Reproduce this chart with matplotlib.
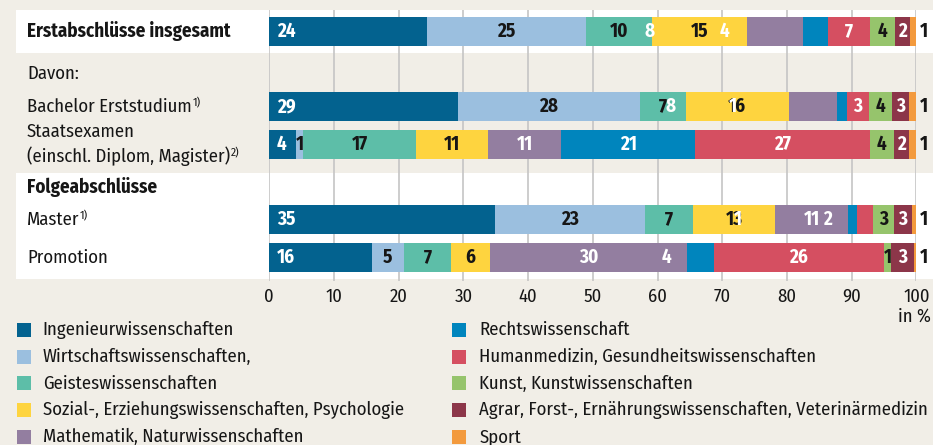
import matplotlib
matplotlib.use("Agg")
import matplotlib.pyplot as plt
from matplotlib import font_manager as fm
from matplotlib.patches import Rectangle
from matplotlib.transforms import blended_transform_factory, IdentityTransform

# ---------------- data ----------------
fields = [
    "Ingenieurwissenschaften",
    "Wirtschaftswissenschaften,",
    "Geisteswissenschaften",
    "Sozial-, Erziehungswissenschaften, Psychologie",
    "Mathematik, Naturwissenschaften",
    "Rechtswissenschaft",
    "Humanmedizin, Gesundheitswissenschaften",
    "Kunst, Kunstwissenschaften",
    "Agrar, Forst-, Ernährungswissenschaften, Veterinärmedizin",
    "Sport",
]
colors = ["#03628f", "#9bbfdf", "#5dbea8", "#fed43f", "#937ea0",
          "#0085bd", "#d54f61", "#96c46c", "#8c3649", "#f39a3d"]
label_dark = [False, True, True, True, False, False, False, True, False, True]

categories = [
    "Erstabschlüsse insgesamt",
    "Bachelor Erststudium",
    "Staatsexamen\n(einschl. Diplom, Magister)",
    "Master",
    "Promotion",
]
footnotes = ["", "1)", "2)", "1)", ""]
bold_category = [True, False, False, False, False]
section_labels = ["Davon:", "Folgeabschlüsse"]

erst = [24.3, 24.6, 10.3, 14.7, 8.6, 3.9, 6.5, 3.8, 2.3, 1.0]
bachelor = [29.1, 28.2, 7.1, 15.9, 7.5, 1.5, 3.4, 3.5, 2.7, 1.1]
staats = [4.2, 1.0, 17.5, 11.1, 11.3, 20.7, 27.0, 3.7, 2.4, 1.1]
master = [34.9, 23.2, 7.4, 12.7, 11.2, 1.5, 2.4, 3.2, 2.8, 0.7]
promotion = [15.8, 5.0, 7.3, 6.0, 30.5, 4.1, 26.3, 1.1, 3.5, 0.4]
values = [erst, bachelor, staats, master, promotion]

erst_lbl = [24, 25, 10, 15, 8, 4, 7, 4, 2, 1]
bachelor_lbl = [29, 28, 7, 16, 8, 1, 3, 4, 3, 1]
staats_lbl = [4, 1, 17, 11, 11, 21, 27, 4, 2, 1]
master_lbl = [35, 23, 7, 13, 11, 1, 2, 3, 3, 1]
promotion_lbl = [16, 5, 7, 6, 30, 4, 26, 1, 3, 1]
labels = [erst_lbl, bachelor_lbl, staats_lbl, master_lbl, promotion_lbl]

xticks = [0, 10, 20, 30, 40, 50, 60, 70, 80, 90, 100]
xtick_labels = ["0", "10", "20", "30", "40", "50", "60", "70", "80", "90", "100"]

# ---------------- layout / style ----------------
W, H = 933, 445
BG = "#f1eee7"
GRID = "#c5c5c5"
TXT = "#161616"
row_y = [0, 2, 3, 5, 6]
section_y = [1.12, 4.12]
# label positions in the reference that are not at the segment centre
label_x_override = {(0, 4): 58.7, (0, 5): 70.3, (1, 4): 62.0, (1, 5): 71.7,
                    (3, 5): 72.5, (3, 6): 86.2, (4, 5): 61.4}

available = {f.name for f in fm.fontManager.ttflist}
base = "DejaVu Sans"
for cand in ["Fira Sans Condensed", "Fira Sans", "PT Sans Narrow",
             "Liberation Sans Narrow", "Open Sans", "Lato"]:
    if cand in available:
        base = cand
        break
FAM = [base, "DejaVu Sans"]
plt.rcParams["font.family"] = FAM

fig = plt.figure(figsize=(W / 100, H / 100), dpi=100, facecolor=BG)
renderer = fig.canvas.get_renderer()


def fit_size(text, target_px, weight="normal"):
    t = fig.text(0, 0, text, fontsize=10, fontweight=weight)
    w = t.get_window_extent(renderer).width
    t.remove()
    return 10 * target_px / w


FS = fit_size("Sozial-, Erziehungswissenschaften, Psychologie", 361)
FSB = fit_size("Erstabschlüsse insgesamt", 204, "bold")
FSN = fit_size("25", 18.3, "bold")
FS_PX = FS * 100 / 72

ax_left, ax_right = 269.3, 916.3
ax_top, ax_bot = 10, 281
ax = fig.add_axes([ax_left / W, 1 - ax_bot / H, (ax_right - ax_left) / W, (ax_bot - ax_top) / H])
ax.set_facecolor("none")
slot = 37.7
ax.set_ylim((ax_bot - 31.3) / slot, (ax_top - 31.3) / slot)
ax.set_xlim(0, 100)
for s in ax.spines.values():
    s.set_visible(False)
ax.set_yticks([])
ax.set_xticks(xticks)
ax.set_xticklabels(xtick_labels, fontsize=FS, color=TXT)
ax.tick_params(axis="x", length=0, pad=5)
ax.grid(axis="x", color=GRID, linewidth=1.2)
ax.set_axisbelow(True)

# white bands
bt = blended_transform_factory(fig.transFigure, ax.transData)
for (p0, p1) in [(10, 53), (173, 279)]:
    y0 = (p0 - 31.3) / slot
    y1 = (p1 - 31.3) / slot
    ax.add_patch(Rectangle((16 / W, y0), 1 - 16 / W, y1 - y0, transform=bt,
                           facecolor="white", edgecolor="none", zorder=0.1, clip_on=False))

# bars
bar_h = 29 / slot
for r, (vals, lbls) in enumerate(zip(values, labels)):
    left = 0.0
    for k, (v, lb) in enumerate(zip(vals, lbls)):
        ax.barh(row_y[r], v, left=left, height=bar_h, color=colors[k], edgecolor="none", zorder=2)
        if k == 0:
            x, ha = 1.2, "left"
            col = "white"
        elif k == len(vals) - 1:
            x, ha = 100.6, "left"
            col = TXT
        else:
            x = label_x_override.get((r, k), left + v / 2)
            ha = "center"
            col = TXT if label_dark[k] else "white"
        ax.text(x, row_y[r], str(lb), ha=ha, va="center", fontsize=FSN,
                fontweight="bold", color=col, zorder=5, clip_on=False)
        left += v

# category labels with small raised footnote markers
for r, cat in enumerate(categories):
    fs = FSB if bold_category[r] else FS
    fw = "bold" if bold_category[r] else "normal"
    t = ax.text(27 / W, row_y[r], cat, transform=bt, ha="left", va="center",
                fontsize=fs, fontweight=fw, color=TXT, linespacing=1.35)
    if footnotes[r]:
        bb = t.get_window_extent(renderer)
        last = cat.split("\n")[-1]
        tmp = fig.text(0, 0, last, fontsize=fs, fontweight=fw, va="baseline",
                       transform=IdentityTransform())
        tb = tmp.get_window_extent(renderer)
        tmp.remove()
        baseline = bb.y0 - tb.y0
        x_end = bb.x0 + tb.width
        fig.text(x_end + 0.5, baseline + 0.3 * FS_PX, footnotes[r], fontsize=FS * 0.62,
                 va="baseline", ha="left", color=TXT, transform=IdentityTransform())

ax.text(27 / W, section_y[0], section_labels[0], transform=bt, ha="left", va="center",
        fontsize=FS, color=TXT)
ax.text(27 / W, section_y[1], section_labels[1], transform=bt, ha="left", va="center",
        fontsize=FSB, fontweight="bold", color=TXT)

fig.text(931 / W, 1 - 316 / H, "in %", ha="right", va="center", fontsize=FS, color=TXT)

# legend (two columns, 5 rows)
leg_rows = [330, 356.7, 383.3, 410, 436.7]
for i, name in enumerate(fields):
    col = i // 5
    row = i % 5
    sx = 17 if col == 0 else 452
    tx = 42.7 if col == 0 else 479.3
    yc = leg_rows[row]
    fig.patches.append(Rectangle((sx / W, 1 - (yc + 7) / H), 14 / W, 14 / H,
                                 transform=fig.transFigure, facecolor=colors[i],
                                 edgecolor="none"))
    fig.text(tx / W, 1 - yc / H, name, ha="left", va="center", fontsize=FS, color=TXT)

fig.savefig("out.png", dpi=100, facecolor=BG)
